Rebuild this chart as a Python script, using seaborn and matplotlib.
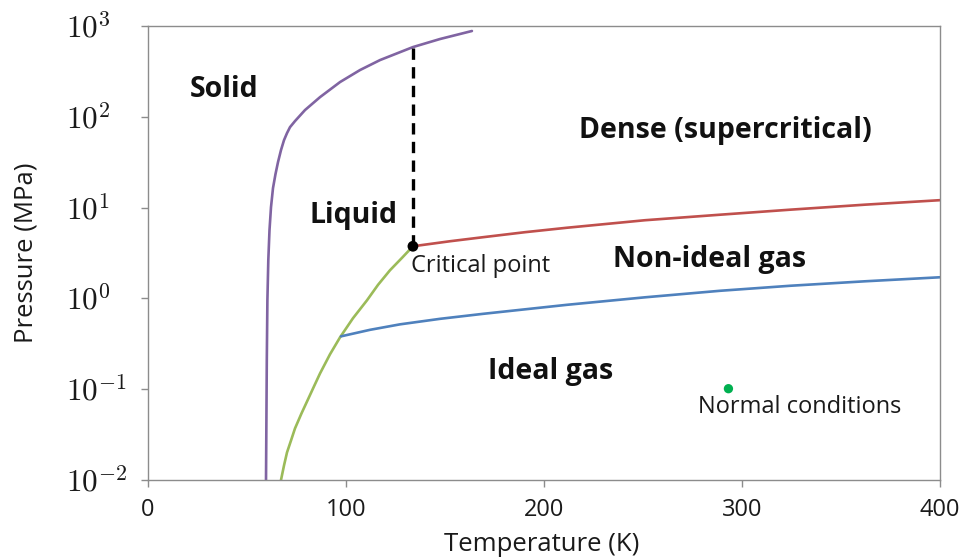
import matplotlib
matplotlib.use("Agg")
import matplotlib.pyplot as plt
import pandas as pd
import seaborn as sns

# Phase boundaries of air (temperature in K, pressure in MPa)
melt_T = [59.60, 59.80, 60.00, 60.30, 60.76, 61.36, 62.12, 63.13, 64.39, 65.66, 67.17, 68.69,
          70.20, 71.72, 74.24, 79.3, 86.9, 97.0, 107.1, 117.2, 133.8, 147.5, 163.6]
melt_P = [0.01, 0.0453, 0.208, 0.953, 2.63, 5.64, 10.1, 16.4, 23.4, 31.7, 43.0, 55.3,
          66.1, 76.9, 89.7, 118.7, 164.8, 241.4, 327.5, 421.7, 586.0, 719.0, 881.0]

vapor_T = [67.17, 68.69, 70.20, 72.22, 74.24, 77.5, 80.81, 83.8, 86.87, 91.9, 96.97,
           103.5, 110.6, 116.2, 122.2, 128.3, 133.8]
vapor_P = [0.01, 0.01445, 0.0201, 0.0272, 0.0370, 0.054, 0.0773, 0.107, 0.149, 0.242, 0.372,
           0.604, 0.953, 1.413, 2.04, 2.80, 3.75]

dense_T = [133.8, 152.5, 169.2, 190.4, 211.6, 251.0, 288.9, 324.2, 362.1, 400.0]
dense_P = [3.75, 4.26, 4.72, 5.36, 6.00, 7.26, 8.35, 9.48, 10.77, 12.07]

ideal_T = [97.47, 112.1, 127.3, 147.5, 169.2, 190.4, 211.6, 251.0, 288.9, 324.2, 362.1, 400.0]
ideal_P = [0.382, 0.4506, 0.518, 0.5957, 0.676, 0.758, 0.850, 1.028, 1.213, 1.377, 1.543, 1.709]

critical_T = [133.8]
critical_P = [3.75]
critical_top_P = [586.0]

normal_T = [293.15]
normal_P = [0.1013]

x_ticks = [0, 100, 200, 300, 400]
y_exponents = [-2, -1, 0, 1, 2, 3]

sns.set_theme(style="white")
plt.rcParams["font.family"] = ["Open Sans", "DejaVu Sans"]
plt.rcParams["mathtext.fontset"] = "cm"

fig = plt.figure(figsize=(9.64, 5.60), dpi=100)
ax = fig.add_axes([148 / 964, 1 - 480 / 560, 792 / 964, 454 / 560])

grey = "#8c8c8c"
ink = "#1a1a1a"
lw = 1.9

melt = pd.DataFrame({"T": melt_T, "P": melt_P})
vapor = pd.DataFrame({"T": vapor_T, "P": vapor_P})
dense = pd.DataFrame({"T": dense_T, "P": dense_P})
ideal = pd.DataFrame({"T": ideal_T, "P": ideal_P})

sns.lineplot(data=melt, x="T", y="P", sort=False, estimator=None, color="#8064a2", lw=lw, ax=ax)
sns.lineplot(data=vapor, x="T", y="P", sort=False, estimator=None, color="#9bbb59", lw=lw, ax=ax)
sns.lineplot(data=dense, x="T", y="P", sort=False, estimator=None, color="#c0504d", lw=lw, ax=ax)
sns.lineplot(data=ideal, x="T", y="P", sort=False, estimator=None, color="#4f81bd", lw=lw, ax=ax)

# vertical dashed boundary above the critical point
crit_line = pd.DataFrame({"T": critical_T * 2, "P": critical_P + critical_top_P})
sns.lineplot(data=crit_line, x="T", y="P", sort=False, estimator=None, color="black",
             lw=2.4, ax=ax)
ax.lines[-1].set_dashes([3.4, 2.2])

sns.scatterplot(x=critical_T, y=critical_P, color="black", s=60, edgecolor="none", zorder=5, ax=ax)
sns.scatterplot(x=normal_T, y=normal_P, color="#00b050", s=45, edgecolor="none", zorder=5, ax=ax)

ax.set_yscale("log")
ax.set_xlim(0, 400)
ax.set_ylim(1e-2, 1e3)
ax.set_xticks(x_ticks)
ax.set_yticks([10.0 ** e for e in y_exponents])
ax.set_yticklabels([rf"$10^{{{e}}}$" for e in y_exponents])
ax.minorticks_off()

for s in ax.spines.values():
    s.set_color(grey)
    s.set_linewidth(1.0)
ax.tick_params(axis="both", which="major", direction="out", length=5, width=1,
               color=grey, labelcolor=ink, bottom=True, left=True)
ax.tick_params(axis="x", labelsize=17, pad=8)
ax.tick_params(axis="y", labelsize=22.5, pad=54)
plt.setp(ax.get_yticklabels(), ha="left")

ax.set_xlabel("Temperature (K)", fontsize=18.5, color=ink)
ax.set_ylabel("Pressure (MPa)", fontsize=18.5, color=ink)
ax.xaxis.set_label_coords(0.497, -0.143)
ax.xaxis.label.set_va("center")
ax.yaxis.set_label_coords(-0.154, 0.5)
ax.yaxis.label.set_va("center")

bold = dict(fontsize=20.5, fontweight="bold", color="#111111", ha="center", va="baseline")
ax.text(38.4, 165, "Solid", **bold)
ax.text(291.4, 58.2, "Dense (supercritical)", **bold)
ax.text(103.8, 6.73, "Liquid", **bold)
ax.text(283.6, 2.2, "Non-ideal gas", **bold)
ax.text(203.5, 0.128, "Ideal gas", **bold)

normal = dict(fontsize=17, color=ink, va="baseline")
ax.text(133.0, 1.94, "Critical point", ha="left", **normal)
ax.text(329.0, 0.054, "Normal conditions", ha="center", **normal)

fig.savefig("out.png", dpi=100)
